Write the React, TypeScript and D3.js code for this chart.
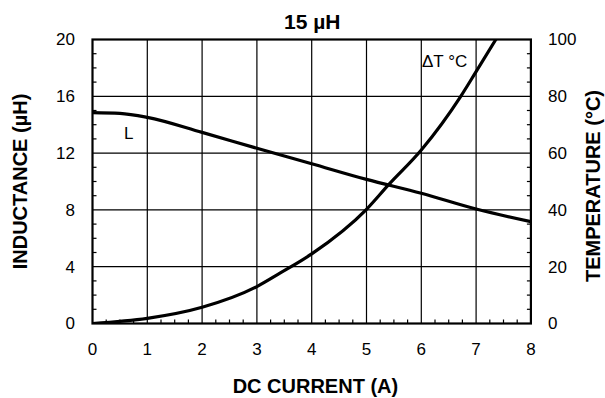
import React from "react";
import * as d3 from "d3";

const xTicks = [0, 1, 2, 3, 4, 5, 6, 7, 8];
const leftTicks = [0, 4, 8, 12, 16, 20];
const rightTicks = [0, 20, 40, 60, 80, 100];

const inductanceX = [0, 0.5, 1, 2, 3, 4, 5, 6, 7, 8];
const inductanceY = [14.85, 14.8, 14.52, 13.46, 12.34, 11.25, 10.15, 9.17, 8.06, 7.17];

const tempX = [0, 1, 2, 3, 3.42, 4, 5, 5.4, 6, 6.72, 7, 7.36];
const tempY = [0, 1.8, 5.7, 13, 17.7, 24.5, 40.2, 48.8, 61.1, 80, 88.7, 100];

const W = 605;
const H = 398;
const FONT = "'Liberation Sans', Arial, Helvetica, sans-serif";

export default function App() {
  const x = d3.scaleLinear().domain([0, 8]).range([92.5, 530.9]);
  const yL = d3.scaleLinear().domain([0, 20]).range([323.5, 39.5]);
  const yT = d3.scaleLinear().domain([0, 100]).range([323.5, 39.5]);

  const lineL = d3
    .line<number>()
    .x((_, i) => x(inductanceX[i]))
    .y((d) => yL(d))
    .curve(d3.curveMonotoneX);
  const lineT = d3
    .line<number>()
    .x((_, i) => x(tempX[i]))
    .y((d) => yT(d))
    .curve(d3.curveMonotoneX);

  const [x0, x1] = x.range();
  const [y0, y1] = yL.range();

  const minorX = d3.range(0, 8.001, 0.25).filter((v) => Math.abs(v - Math.round(v)) > 1e-6);
  const minorL = d3.range(0, 20.001, 1).filter((v) => v % 4 !== 0);
  const minorT = d3.range(0, 100.001, 5).filter((v) => v % 20 !== 0);

  return (
    <svg
      width={W}
      height={H}
      style={{ position: "absolute", left: 0, top: 0, background: "#fff" }}
      fontFamily={FONT}
    >
      <defs>
        <clipPath id="plot">
          <rect x={x0} y={y1} width={x1 - x0} height={y0 - y1} />
        </clipPath>
      </defs>
      {/* grid */}
      {xTicks.slice(1, -1).map((t) => (
        <line key={"gx" + t} x1={x(t)} x2={x(t)} y1={y1} y2={y0} stroke="#000" strokeWidth={1.2} />
      ))}
      {leftTicks.slice(1, -1).map((t) => (
        <line key={"gy" + t} x1={x0} x2={x1} y1={yL(t)} y2={yL(t)} stroke="#000" strokeWidth={1.2} />
      ))}
      {/* minor ticks */}
      {minorX.map((t) => (
        <line key={"mx" + t} x1={x(t)} x2={x(t)} y1={y0} y2={y0 - 4} stroke="#000" strokeWidth={1.2} />
      ))}
      {minorL.map((t) => (
        <line key={"ml" + t} x1={x0} x2={x0 + 4} y1={yL(t)} y2={yL(t)} stroke="#000" strokeWidth={1.2} />
      ))}
      {minorT.map((t) => (
        <line key={"mt" + t} x1={x1} x2={x1 - 4} y1={yT(t)} y2={yT(t)} stroke="#000" strokeWidth={1.2} />
      ))}
      {/* curves */}
      <g clipPath="url(#plot)">
        <path d={lineL(inductanceY) || ""} fill="none" stroke="#000" strokeWidth={3.2} strokeLinecap="round" />
        <path d={lineT(tempY) || ""} fill="none" stroke="#000" strokeWidth={3.2} strokeLinecap="round" />
      </g>
      {/* frame */}
      <rect x={x0} y={y1} width={x1 - x0} height={y0 - y1} fill="none" stroke="#000" strokeWidth={2.2} />
      {/* tick labels */}
      {xTicks.map((t) => (
        <text key={"xl" + t} x={x(t)} y={354.5} textAnchor="middle" fontSize={17}>
          {t}
        </text>
      ))}
      {leftTicks.map((t) => (
        <text key={"ll" + t} x={75} y={yL(t)} dy="0.35em" textAnchor="end" fontSize={17}>
          {t}
        </text>
      ))}
      {rightTicks.map((t) => (
        <text key={"rl" + t} x={548} y={yT(t)} dy="0.35em" textAnchor="start" fontSize={17}>
          {t}
        </text>
      ))}
      {/* series labels */}
      <text x={124} y={139} fontSize={17}>L</text>
      <text x={422} y={66.5} fontSize={17}>ΔT °C</text>
      {/* titles */}
      <text x={312.3} y={29} textAnchor="middle" fontSize={21} fontWeight="bold">
        15 µH
      </text>
      <text x={315.4} y={392.5} textAnchor="middle" fontSize={20} fontWeight="bold">
        DC CURRENT (A)
      </text>
      <text
        transform={`translate(27,181.5) rotate(-90)`}
        textAnchor="middle"
        fontSize={20}
        fontWeight="bold"
      >
        INDUCTANCE (µH)
      </text>
      <text
        transform={`translate(600,186) rotate(-90)`}
        textAnchor="middle"
        fontSize={20}
        fontWeight="bold"
      >
        TEMPERATURE (°C)
      </text>
    </svg>
  );
}
